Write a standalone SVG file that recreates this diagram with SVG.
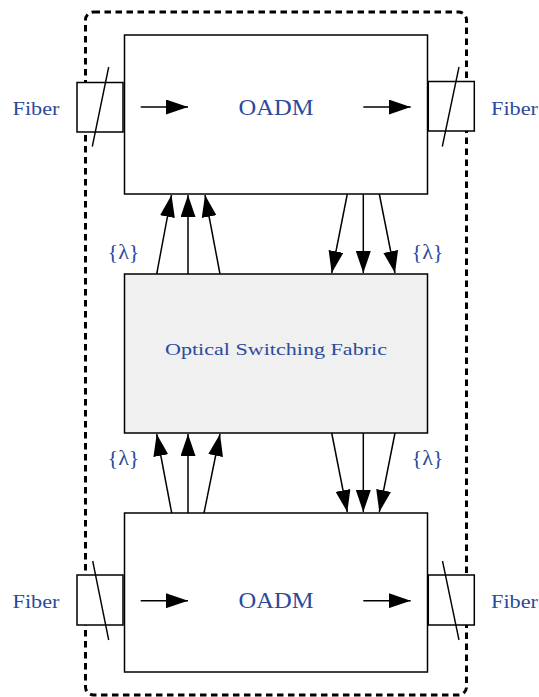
<svg xmlns="http://www.w3.org/2000/svg" width="539" height="697" viewBox="0 0 539 697">
<defs>
<marker id="ah" viewBox="0 0 22 15" refX="22" refY="7.5" markerWidth="22" markerHeight="15" markerUnits="userSpaceOnUse" orient="auto">
<path d="M0,0 L22,7.5 L0,15 z" fill="#000"/>
</marker>
<style>
.box{fill:#fff;stroke:#000;stroke-width:1.5}
.fab{fill:#f0f0f0;stroke:#000;stroke-width:1.5}
.conn{fill:none;stroke:#000;stroke-width:1.5;marker-end:url(#ah)}
.slash{stroke:#000;stroke-width:1.4}
.lbl{font-family:"Liberation Serif","DejaVu Serif",serif;fill:#2b4a9b}
.encl{fill:none;stroke:#000;stroke-width:3;stroke-dasharray:6.5 4.5}
</style>
</defs>
<rect width="539" height="697" fill="#fff"/>
<g id="enclosure">
<rect class="encl" x="85.5" y="12" width="381" height="683" rx="8"/>
</g>
<g id="oadm-top">
<rect class="box" x="124.5" y="35" width="303" height="159"/>
<text class="lbl" x="276" y="115" font-size="23.5" text-anchor="middle" textLength="75" lengthAdjust="spacingAndGlyphs">OADM</text>
</g>
<g id="fabric">
<rect class="fab" x="124.5" y="274" width="303" height="159"/>
<text class="lbl" x="276" y="354.5" font-size="16.5" text-anchor="middle" textLength="222" lengthAdjust="spacingAndGlyphs">Optical Switching Fabric</text>
</g>
<g id="oadm-bottom">
<rect class="box" x="124.5" y="513" width="303" height="159"/>
<text class="lbl" x="276" y="608" font-size="23.5" text-anchor="middle" textLength="75" lengthAdjust="spacingAndGlyphs">OADM</text>
</g>
<g id="fiber-top-left">
<rect class="box" x="77" y="82.5" width="46" height="49.5"/>
<line class="slash" x1="108.7" y1="67" x2="92.3" y2="146.5"/>
<text class="lbl" x="36" y="114.5" font-size="18.5" text-anchor="middle" textLength="47" lengthAdjust="spacingAndGlyphs">Fiber</text>
</g>
<g id="fiber-top-right">
<rect class="box" x="428.3" y="81.5" width="46" height="49.5"/>
<line class="slash" x1="459" y1="67" x2="442.3" y2="146.5"/>
<text class="lbl" x="514.5" y="114.5" font-size="18.5" text-anchor="middle" textLength="47" lengthAdjust="spacingAndGlyphs">Fiber</text>
</g>
<g id="fiber-bottom-left">
<rect class="box" x="77" y="575" width="46" height="50"/>
<line class="slash" x1="92.7" y1="561" x2="108.7" y2="640"/>
<text class="lbl" x="36" y="608" font-size="18.5" text-anchor="middle" textLength="47" lengthAdjust="spacingAndGlyphs">Fiber</text>
</g>
<g id="fiber-bottom-right">
<rect class="box" x="428.3" y="575" width="46" height="50"/>
<line class="slash" x1="442.5" y1="561" x2="459" y2="640"/>
<text class="lbl" x="514.5" y="608" font-size="18.5" text-anchor="middle" textLength="47" lengthAdjust="spacingAndGlyphs">Fiber</text>
</g>
<g id="labels">
<text class="lbl" x="123.5" y="259" font-size="21" text-anchor="middle" textLength="32" lengthAdjust="spacingAndGlyphs">{λ}</text>
<text class="lbl" x="427.5" y="259" font-size="21" text-anchor="middle" textLength="32" lengthAdjust="spacingAndGlyphs">{λ}</text>
<text class="lbl" x="123.5" y="465" font-size="21" text-anchor="middle" textLength="32" lengthAdjust="spacingAndGlyphs">{λ}</text>
<text class="lbl" x="427.5" y="465" font-size="21" text-anchor="middle" textLength="32" lengthAdjust="spacingAndGlyphs">{λ}</text>
</g>
<g id="connectors">
<line class="conn" x1="140.7" y1="107" x2="188" y2="107"/>
<line class="conn" x1="363.3" y1="107" x2="410.7" y2="107"/>
<line class="conn" x1="140.7" y1="600.7" x2="188" y2="600.7"/>
<line class="conn" x1="363.3" y1="600.7" x2="410.7" y2="600.7"/>
<line class="conn" x1="156.7" y1="274" x2="171.5" y2="195"/>
<line class="conn" x1="188" y1="274" x2="188" y2="195"/>
<line class="conn" x1="220" y1="274" x2="205" y2="195"/>
<line class="conn" x1="347.3" y1="194" x2="331.7" y2="273"/>
<line class="conn" x1="363.3" y1="194" x2="363.3" y2="273"/>
<line class="conn" x1="379.3" y1="194" x2="395" y2="273"/>
<line class="conn" x1="171.7" y1="513" x2="156.7" y2="434"/>
<line class="conn" x1="188" y1="513" x2="188" y2="434"/>
<line class="conn" x1="204" y1="513" x2="220" y2="434"/>
<line class="conn" x1="331.7" y1="433" x2="347.3" y2="512"/>
<line class="conn" x1="363.3" y1="433" x2="363.3" y2="512"/>
<line class="conn" x1="395" y1="433" x2="379.3" y2="512"/>
</g>
</svg>
